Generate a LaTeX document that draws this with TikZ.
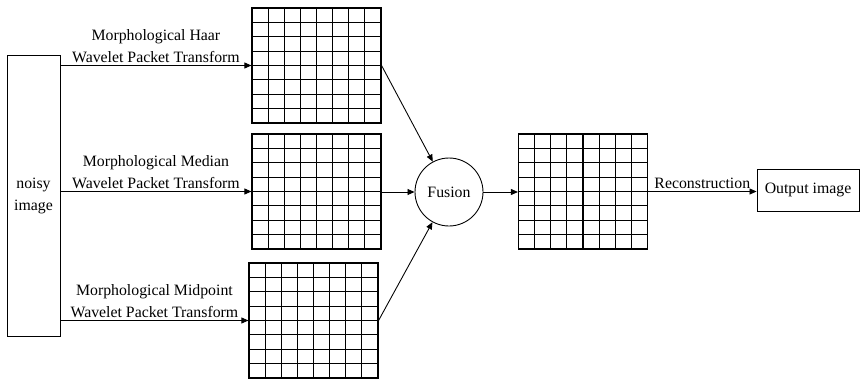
\documentclass[tikz,border=0pt]{standalone}
\usepackage{fontspec}
\setmainfont{Liberation Serif}
\usetikzlibrary{arrows.meta, positioning, calc}
\tikzset{
  every picture/.style={line width=0.5pt},
  arrow/.style={-{Triangle[length=4pt, width=3.4pt]}, draw=black, line width=0.5pt},
  coefgrid/.style={draw, line width=0.65pt, minimum width=2.58cm, minimum height=2.3cm, inner sep=0pt,
    path picture={
      \foreach \k in {1,...,7}{
        \draw[line width=0.65pt] ($(path picture bounding box.south west)!\k/8!(path picture bounding box.south east)$) -- ($(path picture bounding box.north west)!\k/8!(path picture bounding box.north east)$);
        \draw[line width=0.65pt] ($(path picture bounding box.south west)!\k/8!(path picture bounding box.north west)$) -- ($(path picture bounding box.south east)!\k/8!(path picture bounding box.north east)$);
      }}},
  label/.style={align=center, font=\fontsize{9}{12.5}\selectfont, inner sep=1.5pt},
}
\begin{document}
\begin{tikzpicture}[x=0.02cm, y=-0.02cm, font=\fontsize{9}{12.5}\selectfont]
  \useasboundingbox (0,0) rectangle (862,379);
  % input image
  \node[draw, minimum width=1.06cm, minimum height=5.62cm, align=center, inner sep=1pt] (noisy) at (33.5,195.5) {noisy\\image};
  % wavelet packet coefficients
  \node[coefgrid] (haar) at (316.5,65.5) {};
  \node[coefgrid] (median) at (316.5,191.5) {};
  \node[coefgrid] (midpt) at (313.5,320.5) {};
  \foreach \g/\t in {haar/Haar, median/Median, midpt/Midpoint}{
    \draw[arrow] (noisy.east |- \g.west) -- node[label, above] {Morphological \t\\Wavelet Packet Transform} (\g.west);
  }
  % fusion and reconstruction
  \node[draw, circle, minimum size=1.36cm, inner sep=0pt] (fusion) at (449,192) {Fusion};
  \node[coefgrid] (fused) at (583,191.5) {};
  \node[draw, minimum width=2.04cm, minimum height=0.84cm, inner sep=2pt] (out) at (808,190) {Output image};
  \draw[arrow] (haar.east) -- (fusion);
  \draw[arrow] (midpt.east) -- (fusion);
  \draw[arrow] (median.east |- fusion.west) -- (fusion.west);
  \draw[arrow] (fusion.east) -- (fusion.east -| fused.west);
  \draw[arrow] (fused.east) -- node[label, above] {Reconstruction} (fused.east -| out.west);
\end{tikzpicture}
\end{document}
